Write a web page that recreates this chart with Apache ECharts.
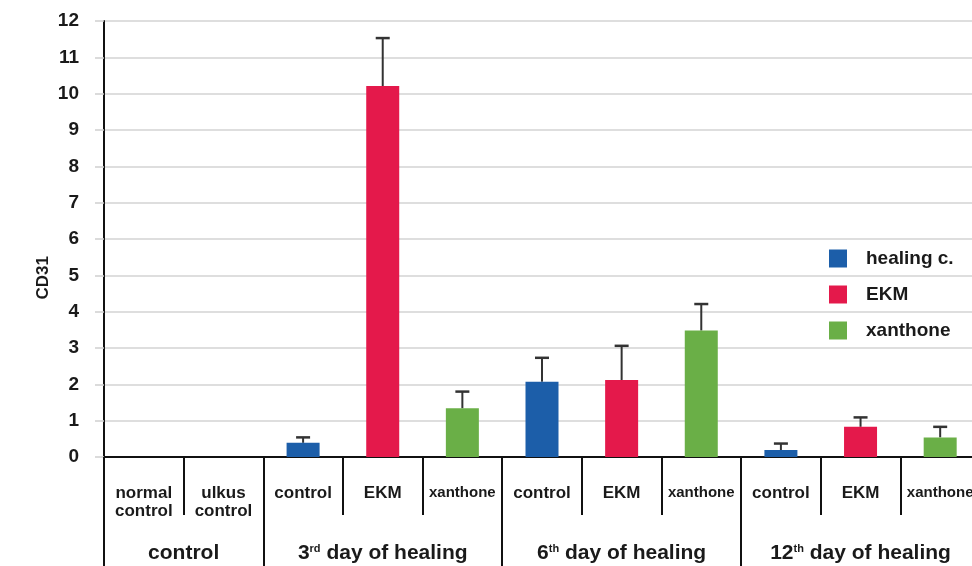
<!DOCTYPE html>
<html>
<head>
<meta charset="utf-8">
<script src="https://cdn.jsdelivr.net/npm/echarts@6/dist/echarts.min.js"></script>
<style>
html,body{margin:0;padding:0;background:#fff;}
#chart{width:972px;height:566px;}
</style>
</head>
<body>
<div id="chart"></div>
<script>
// ---- data ----
var categories = ['normal\ncontrol','ulkus\ncontrol','control','EKM','xanthone','control','EKM','xanthone','control','EKM','xanthone'];
var groupNames = ['control','3{sup|rd} day of healing','6{sup|th} day of healing','12{sup|th} day of healing'];
var groupSpans = [2,3,3,3];
var seriesNames = ['healing c.','EKM','xanthone'];
var healingValues  = ['-','-',0.39,'-','-',2.07,'-','-',0.19,'-','-'];
var ekmValues      = ['-','-','-',10.21,'-','-',2.12,'-','-',0.83,'-'];
var xanthoneValues = ['-','-','-','-',1.34,'-','-',3.48,'-','-',0.54];
var errorValues    = ['-','-',0.15,1.32,0.46,0.66,0.94,0.73,0.18,0.26,0.29];
var yTicks = [0,1,2,3,4,5,6,7,8,9,10,11,12];

var colors = ['#1c5ea9','#e4194b','#6aaf47'];
var FONT = 'Liberation Sans, Arial, sans-serif';

var barTops = categories.map(function(c,i){
  var v = [healingValues[i], ekmValues[i], xanthoneValues[i]].filter(function(x){return x!=='-';});
  return v.length ? v[0] : '-';
});
var errData = categories.map(function(c,i){
  return (barTops[i]==='-' || errorValues[i]==='-') ? [i,'-','-'] : [i, barTops[i], barTops[i]+errorValues[i]];
}).filter(function(d){return d[1]!=='-';});

// half-unit second-level axis
var halfCats = [];
var tickIdx = {0:true};
var labelIdx = {};
var pos = 0;
for (var g=0; g<groupSpans.length; g++){
  labelIdx[pos + groupSpans[g]] = groupNames[g];
  pos += groupSpans[g]*2;
  tickIdx[pos] = true;
}
for (var h=0; h<=pos; h++){ halfCats.push(labelIdx[h] || ''); }

var chart = echarts.init(document.getElementById('chart'), null, {renderer:'canvas'});

function barSeries(name, data, color){
  return {
    name: name, type: 'bar', data: data, barWidth: 33, barGap: '-100%',
    itemStyle: {color: color}, xAxisIndex: 0, yAxisIndex: 0, z: 2
  };
}

var option = {
  animation: false,
  backgroundColor: '#fff',
  textStyle: {fontFamily: FONT},
  grid: {left: 104, top: 21, width: 876, height: 436, containLabel: false, outerBoundsMode: 'none'},
  legend: {
    orient: 'vertical', left: 829, top: 249, padding: 0,
    itemWidth: 18, itemHeight: 18, itemGap: 17,
    icon: 'rect',
    data: seriesNames,
    textStyle: {fontFamily: FONT, fontWeight: 'bold', fontSize: 19, color: '#1a1a1a', padding: [0,0,0,14]}
  },
  xAxis: [{
    type: 'category', data: categories, position: 'bottom',
    axisLine: {show: true, lineStyle: {color: '#111', width: 2}},
    axisTick: {show: true, length: 58, lineStyle: {color: '#111', width: 2}},
    axisLabel: {
      margin: 27, interval: 0, fontFamily: FONT, fontWeight: 'bold', fontSize: 17, color: '#1a1a1a', lineHeight: 18,
      formatter: function(v){ return v === 'xanthone' ? '{s|xanthone}' : v; },
      rich: {s: {fontFamily: FONT, fontWeight: 'bold', fontSize: 15, color: '#1a1a1a'}}
    },
    splitLine: {show: false}
  },{
    type: 'category', data: halfCats, position: 'bottom', boundaryGap: false,
    axisLine: {show: false},
    axisTick: {show: true, length: 115, interval: function(i){ return !!tickIdx[i]; }, lineStyle: {color: '#111', width: 2}},
    axisLabel: {
      margin: 86, interval: function(i, v){ return v !== ''; },
      fontFamily: FONT, fontWeight: 'bold', fontSize: 21, color: '#1a1a1a',
      rich: {sup: {fontFamily: FONT, fontWeight: 'bold', fontSize: 11, color: '#1a1a1a', verticalAlign: 'top', padding: [0,0,10,0]}}
    },
    splitLine: {show: false}
  }],
  yAxis: {
    type: 'value', min: 0, max: 12, interval: 1,
    axisLine: {show: true, lineStyle: {color: '#111', width: 2}},
    axisTick: {show: true, length: 9, lineStyle: {color: '#cfcfcf', width: 1.5}},
    axisLabel: {margin: 25, fontFamily: FONT, fontWeight: 'bold', fontSize: 19, color: '#1a1a1a'},
    splitLine: {show: true, lineStyle: {color: '#d3d3d3', width: 1.5}}
  },
  graphic: [{
    type: 'text', left: 35, top: 256,
    rotation: Math.PI/2,
    style: {text: 'CD31', fontFamily: FONT, fontWeight: 'bold', fontSize: 17, fill: '#1a1a1a'}
  }],
  series: [
    barSeries(seriesNames[0], healingValues, colors[0]),
    barSeries(seriesNames[1], ekmValues, colors[1]),
    barSeries(seriesNames[2], xanthoneValues, colors[2]),
    {
      type: 'custom', name: 'err', data: errData, z: 1,
      encode: {x: 0, y: [1,2]},
      renderItem: function(params, api){
        var i = api.value(0);
        var lo = api.coord([i, api.value(1)]);
        var hi = api.coord([i, api.value(2)]);
        var hw = 7;
        return {
          type: 'group',
          children: [
            {type: 'line', shape: {x1: lo[0], y1: lo[1], x2: hi[0], y2: hi[1]}, style: {stroke: '#333', lineWidth: 2}},
            {type: 'line', shape: {x1: hi[0]-hw, y1: hi[1], x2: hi[0]+hw, y2: hi[1]}, style: {stroke: '#333', lineWidth: 2.5}}
          ]
        };
      }
    }
  ]
};
chart.setOption(option);
</script>
</body>
</html>
